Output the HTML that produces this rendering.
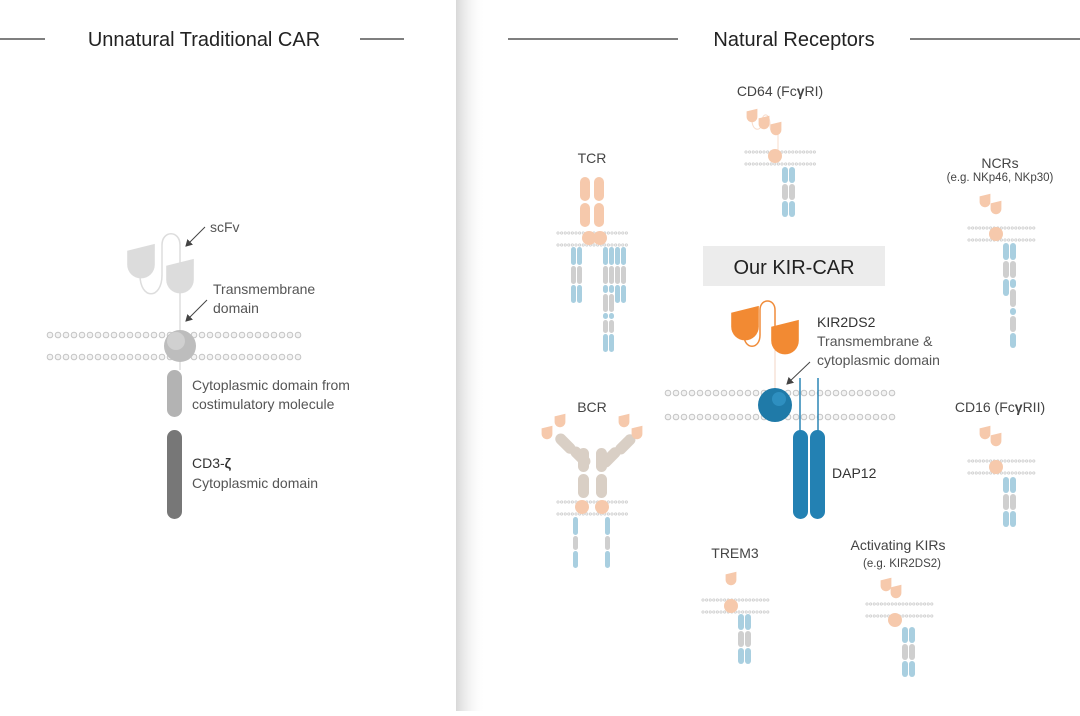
<!DOCTYPE html>
<html><head><meta charset="utf-8"><style>
html,body{margin:0;padding:0;background:#fff}
body{width:1080px;height:711px;overflow:hidden;position:relative;font-family:"Liberation Sans",sans-serif}
.mo{stroke:#c4c4c4;stroke-width:6.6;stroke-dasharray:0 8;stroke-linecap:round}
.mi{stroke:#f3f3f3;stroke-width:4.6;stroke-dasharray:0 8;stroke-linecap:round}
.so{stroke:#c8c8c8;stroke-width:3;stroke-dasharray:0 3.6;stroke-linecap:round}
.si{stroke:#f0f0f0;stroke-width:1.8;stroke-dasharray:0 3.6;stroke-linecap:round}
</style></head><body>
<svg width="1080" height="711" viewBox="0 0 1080 711" xmlns="http://www.w3.org/2000/svg" font-family="Liberation Sans, sans-serif">
<defs>
<linearGradient id="sh" x1="0" x2="1"><stop offset="0" stop-color="#d8d8d8"/><stop offset="1" stop-color="#fff" stop-opacity="0"/></linearGradient>
<marker id="ar" markerWidth="8" markerHeight="8" refX="6" refY="4" orient="auto"><path d="M0,0 L7,4 L0,8 Z" fill="#444"/></marker>
<g id="hd"><path d="M-6,-4 L6,-7 L6,2 A6,6 0 0 1 -6,2 Z"/></g>
</defs>
<rect x="456" y="0" width="30" height="711" fill="url(#sh)"/>
<!-- headers -->
<g stroke="#333" stroke-width="1.3"><line x1="0" y1="39" x2="45" y2="39"/><line x1="360" y1="39" x2="404" y2="39"/><line x1="508" y1="39" x2="678" y2="39"/><line x1="910" y1="39" x2="1080" y2="39"/></g>
<g fill="#222" font-size="20" text-anchor="middle"><text x="204" y="46">Unnatural Traditional CAR</text><text x="794" y="46">Natural Receptors</text></g>

<!-- big membranes -->
<g>
<line class="mo" x1="50" y1="335" x2="300" y2="335"/><line class="mi" x1="50" y1="335" x2="300" y2="335"/>
<line class="mo" x1="50" y1="357" x2="300" y2="357"/><line class="mi" x1="50" y1="357" x2="300" y2="357"/>
<line class="mo" x1="668" y1="393" x2="895" y2="393"/><line class="mi" x1="668" y1="393" x2="895" y2="393"/>
<line class="mo" x1="668" y1="417" x2="895" y2="417"/><line class="mi" x1="668" y1="417" x2="895" y2="417"/>
</g>

<!-- LEFT CAR -->
<line x1="180" y1="280" x2="180" y2="370" stroke="#ddd" stroke-width="1.5"/>
<path d="M140,275 C140,300 162,300 162,275 L162,245 C162,230 180,230 180,245 L180,282" fill="none" stroke="#ddd" stroke-width="1.5"/>
<g fill="#dcdcdc"><use href="#hd" transform="translate(141,260) scale(2.3)"/><use href="#hd" transform="translate(180,275) scale(2.3)"/></g>
<circle cx="180" cy="346" r="16" fill="#bdbdbd"/><circle cx="176" cy="341" r="9" fill="#d0d0d0"/>
<rect x="167" y="370" width="15" height="47" rx="7.5" fill="#b3b3b3"/>
<rect x="167" y="430" width="15" height="89" rx="7.5" fill="#777"/>
<g stroke="#444" stroke-width="1"><line x1="205" y1="227" x2="186" y2="246" marker-end="url(#ar)"/><line x1="207" y1="300" x2="186" y2="321" marker-end="url(#ar)"/></g>
<g fill="#555" font-size="14"><text x="210" y="232">scFv</text><text x="213" y="294">Transmembrane</text><text x="213" y="313">domain</text><text x="192" y="390">Cytoplasmic domain from</text><text x="192" y="409">costimulatory molecule</text><text x="192" y="468" fill="#333">CD3-<tspan font-weight="bold">ζ</tspan></text><text x="192" y="488">Cytoplasmic domain</text></g>

<!-- KIR-CAR -->
<rect x="703" y="246" width="182" height="40" fill="#ececec"/>
<text x="794" y="274" font-size="20" text-anchor="middle" fill="#222">Our KIR-CAR</text>
<line x1="775" y1="350" x2="775" y2="395" stroke="#f3d6c4" stroke-width="1"/>
<path d="M744,335 C744,350 760,350 760,335 L760,310 C760,298 775,298 775,310 L775,345" fill="none" stroke="#f08c3a" stroke-width="1.5"/>
<g fill="#f28a33"><use href="#hd" transform="translate(745,322) scale(2.3)"/><use href="#hd" transform="translate(785,336) scale(2.3)"/></g>
<g stroke="#2a85b5" stroke-width="1.5"><line x1="800" y1="378" x2="800" y2="435"/><line x1="818" y1="378" x2="818" y2="435"/></g>
<circle cx="775" cy="405" r="17" fill="#1f7aa8"/><circle cx="779" cy="399" r="7" fill="#2e8fc0"/>
<rect x="793" y="430" width="15" height="89" rx="7.5" fill="#2381b3"/>
<rect x="810" y="430" width="15" height="89" rx="7.5" fill="#2381b3"/>
<line x1="810" y1="362" x2="787" y2="384" stroke="#444" marker-end="url(#ar)"/>
<g fill="#555" font-size="14"><text x="817" y="327" fill="#333">KIR2DS2</text><text x="817" y="346">Transmembrane &amp;</text><text x="817" y="365">cytoplasmic domain</text><text x="832" y="478" fill="#333">DAP12</text></g>

<!-- labels small -->
<g fill="#444" font-size="14" text-anchor="middle">
<text x="592" y="163">TCR</text><text x="780" y="96">CD64 (Fc<tspan font-weight="bold">γ</tspan>RI)</text><text x="1000" y="168">NCRs</text>
<text x="592" y="412">BCR</text><text x="1000" y="412">CD16 (Fc<tspan font-weight="bold">γ</tspan>RII)</text><text x="735" y="558">TREM3</text><text x="898" y="550">Activating KIRs</text>
<text x="1000" y="181" font-size="11.5">(e.g. NKp46, NKp30)</text><text x="902" y="567" font-size="11.5">(e.g. KIR2DS2)</text></g>

<!-- small membranes -->
<g>
<line class="so" x1="558" y1="233" x2="628" y2="233"/><line class="si" x1="558" y1="233" x2="628" y2="233"/><line class="so" x1="558" y1="245" x2="628" y2="245"/><line class="si" x1="558" y1="245" x2="628" y2="245"/>
<line class="so" x1="746" y1="152" x2="816" y2="152"/><line class="si" x1="746" y1="152" x2="816" y2="152"/><line class="so" x1="746" y1="164" x2="816" y2="164"/><line class="si" x1="746" y1="164" x2="816" y2="164"/>
<line class="so" x1="969" y1="228" x2="1035" y2="228"/><line class="si" x1="969" y1="228" x2="1035" y2="228"/><line class="so" x1="969" y1="240" x2="1035" y2="240"/><line class="si" x1="969" y1="240" x2="1035" y2="240"/>
<line class="so" x1="558" y1="502" x2="628" y2="502"/><line class="si" x1="558" y1="502" x2="628" y2="502"/><line class="so" x1="558" y1="514" x2="628" y2="514"/><line class="si" x1="558" y1="514" x2="628" y2="514"/>
<line class="so" x1="969" y1="461" x2="1035" y2="461"/><line class="si" x1="969" y1="461" x2="1035" y2="461"/><line class="so" x1="969" y1="473" x2="1035" y2="473"/><line class="si" x1="969" y1="473" x2="1035" y2="473"/>
<line class="so" x1="703" y1="600" x2="769" y2="600"/><line class="si" x1="703" y1="600" x2="769" y2="600"/><line class="so" x1="703" y1="612" x2="769" y2="612"/><line class="si" x1="703" y1="612" x2="769" y2="612"/>
<line class="so" x1="867" y1="604" x2="933" y2="604"/><line class="si" x1="867" y1="604" x2="933" y2="604"/><line class="so" x1="867" y1="616" x2="933" y2="616"/><line class="si" x1="867" y1="616" x2="933" y2="616"/>
</g>

<!-- TCR -->
<g fill="#f6c9ac"><rect x="580" y="177" width="10" height="24" rx="5"/><rect x="594" y="177" width="10" height="24" rx="5"/><rect x="580" y="203" width="10" height="24" rx="5"/><rect x="594" y="203" width="10" height="24" rx="5"/><circle cx="589" cy="238" r="7"/><circle cx="600" cy="238" r="7"/></g>
<g>
<rect x="571" y="247" width="5" height="18" rx="2.5" fill="#a9cfe0"/><rect x="577" y="247" width="5" height="18" rx="2.5" fill="#a9cfe0"/>
<rect x="571" y="266" width="5" height="18" rx="2.5" fill="#cfcfcf"/><rect x="577" y="266" width="5" height="18" rx="2.5" fill="#cfcfcf"/>
<rect x="571" y="285" width="5" height="18" rx="2.5" fill="#a9cfe0"/><rect x="577" y="285" width="5" height="18" rx="2.5" fill="#a9cfe0"/>
<rect x="603" y="247" width="5" height="18" rx="2.5" fill="#a9cfe0"/><rect x="609" y="247" width="5" height="18" rx="2.5" fill="#a9cfe0"/><rect x="615" y="247" width="5" height="18" rx="2.5" fill="#a9cfe0"/><rect x="621" y="247" width="5" height="18" rx="2.5" fill="#a9cfe0"/>
<rect x="603" y="266" width="5" height="18" rx="2.5" fill="#cfcfcf"/><rect x="609" y="266" width="5" height="18" rx="2.5" fill="#cfcfcf"/><rect x="615" y="266" width="5" height="18" rx="2.5" fill="#cfcfcf"/><rect x="621" y="266" width="5" height="18" rx="2.5" fill="#cfcfcf"/>
<rect x="603" y="285" width="5" height="8" rx="2.5" fill="#a9cfe0"/><rect x="609" y="285" width="5" height="8" rx="2.5" fill="#a9cfe0"/><rect x="615" y="285" width="5" height="18" rx="2.5" fill="#a9cfe0"/><rect x="621" y="285" width="5" height="18" rx="2.5" fill="#a9cfe0"/>
<rect x="603" y="294" width="5" height="18" rx="2.5" fill="#cfcfcf"/><rect x="609" y="294" width="5" height="18" rx="2.5" fill="#cfcfcf"/>
<rect x="603" y="313" width="5" height="6" rx="2.5" fill="#a9cfe0"/><rect x="609" y="313" width="5" height="6" rx="2.5" fill="#a9cfe0"/>
<rect x="603" y="320" width="5" height="13" rx="2.5" fill="#cfcfcf"/><rect x="609" y="320" width="5" height="13" rx="2.5" fill="#cfcfcf"/>
<rect x="603" y="334" width="5" height="18" rx="2.5" fill="#a9cfe0"/><rect x="609" y="334" width="5" height="18" rx="2.5" fill="#a9cfe0"/>
</g>

<!-- CD64 -->
<path d="M752,120 C752,132 762,132 762,122 C762,112 770,112 770,125 C770,136 778,136 778,130 L778,150" fill="none" stroke="#f8dccb" stroke-width="1"/>
<g fill="#f6c9ac"><use href="#hd" transform="translate(752,115) scale(0.9)"/><use href="#hd" transform="translate(764,122) scale(0.9)"/><use href="#hd" transform="translate(776,128) scale(0.9)"/><circle cx="775" cy="156" r="7"/></g>
<g><rect x="782" y="167" width="6" height="16" rx="3" fill="#a9cfe0"/><rect x="789" y="167" width="6" height="16" rx="3" fill="#a9cfe0"/><rect x="782" y="184" width="6" height="16" rx="3" fill="#cfcfcf"/><rect x="789" y="184" width="6" height="16" rx="3" fill="#cfcfcf"/><rect x="782" y="201" width="6" height="16" rx="3" fill="#a9cfe0"/><rect x="789" y="201" width="6" height="16" rx="3" fill="#a9cfe0"/></g>

<!-- NCRs -->
<g fill="#f6c9ac"><use href="#hd" transform="translate(985,200) scale(0.9)"/><use href="#hd" transform="translate(996,207) scale(0.9)"/><circle cx="996" cy="234" r="7"/></g>
<g><rect x="1003" y="243" width="6" height="17" rx="3" fill="#a9cfe0"/><rect x="1010" y="243" width="6" height="17" rx="3" fill="#a9cfe0"/><rect x="1003" y="261" width="6" height="17" rx="3" fill="#cfcfcf"/><rect x="1010" y="261" width="6" height="17" rx="3" fill="#cfcfcf"/><rect x="1003" y="279" width="6" height="17" rx="3" fill="#a9cfe0"/><rect x="1010" y="279" width="6" height="9" rx="3" fill="#a9cfe0"/><rect x="1010" y="289" width="6" height="18" rx="3" fill="#cfcfcf"/><rect x="1010" y="308" width="6" height="7" rx="3" fill="#a9cfe0"/><rect x="1010" y="316" width="6" height="16" rx="3" fill="#cfcfcf"/><rect x="1010" y="333" width="6" height="15" rx="3" fill="#a9cfe0"/></g>

<!-- CD16 -->
<g fill="#f6c9ac"><use href="#hd" transform="translate(985,432) scale(0.9)"/><use href="#hd" transform="translate(996,439) scale(0.9)"/><circle cx="996" cy="467" r="7"/></g>
<g><rect x="1003" y="477" width="6" height="16" rx="3" fill="#a9cfe0"/><rect x="1010" y="477" width="6" height="16" rx="3" fill="#a9cfe0"/><rect x="1003" y="494" width="6" height="16" rx="3" fill="#cfcfcf"/><rect x="1010" y="494" width="6" height="16" rx="3" fill="#cfcfcf"/><rect x="1003" y="511" width="6" height="16" rx="3" fill="#a9cfe0"/><rect x="1010" y="511" width="6" height="16" rx="3" fill="#a9cfe0"/></g>

<!-- TREM3 -->
<g fill="#f6c9ac"><use href="#hd" transform="translate(731,578) scale(0.9)"/><circle cx="731" cy="606" r="7"/></g>
<g><rect x="738" y="614" width="6" height="16" rx="3" fill="#a9cfe0"/><rect x="745" y="614" width="6" height="16" rx="3" fill="#a9cfe0"/><rect x="738" y="631" width="6" height="16" rx="3" fill="#cfcfcf"/><rect x="745" y="631" width="6" height="16" rx="3" fill="#cfcfcf"/><rect x="738" y="648" width="6" height="16" rx="3" fill="#a9cfe0"/><rect x="745" y="648" width="6" height="16" rx="3" fill="#a9cfe0"/></g>

<!-- Activating KIRs -->
<g fill="#f6c9ac"><use href="#hd" transform="translate(886,584) scale(0.9)"/><use href="#hd" transform="translate(896,591) scale(0.9)"/><circle cx="895" cy="620" r="7"/></g>
<g><rect x="902" y="627" width="6" height="16" rx="3" fill="#a9cfe0"/><rect x="909" y="627" width="6" height="16" rx="3" fill="#a9cfe0"/><rect x="902" y="644" width="6" height="16" rx="3" fill="#cfcfcf"/><rect x="909" y="644" width="6" height="16" rx="3" fill="#cfcfcf"/><rect x="902" y="661" width="6" height="16" rx="3" fill="#a9cfe0"/><rect x="909" y="661" width="6" height="16" rx="3" fill="#a9cfe0"/></g>

<!-- BCR -->
<g fill="#d9cfc5">
<rect x="575" y="445" width="11" height="24" rx="5.5" transform="rotate(-45 580 457)"/>
<rect x="560" y="432" width="11" height="24" rx="5.5" transform="rotate(-45 565 444)"/>
<rect x="605" y="445" width="11" height="24" rx="5.5" transform="rotate(45 610 457)"/>
<rect x="620" y="432" width="11" height="24" rx="5.5" transform="rotate(45 625 444)"/>
<rect x="578" y="448" width="11" height="24" rx="5.5"/><rect x="596" y="448" width="11" height="24" rx="5.5"/>
<rect x="578" y="474" width="11" height="24" rx="5.5"/><rect x="596" y="474" width="11" height="24" rx="5.5"/>
</g>
<g fill="#f6c9ac"><use href="#hd" transform="translate(547,432) scale(0.9)"/><use href="#hd" transform="translate(560,420) scale(0.9)"/><use href="#hd" transform="translate(624,420) scale(0.9)"/><use href="#hd" transform="translate(637,432) scale(0.9)"/><circle cx="582" cy="507" r="7"/><circle cx="602" cy="507" r="7"/></g>
<g><rect x="573" y="517" width="5" height="18" rx="2.5" fill="#a9cfe0"/><rect x="573" y="536" width="5" height="14" rx="2.5" fill="#cfcfcf"/><rect x="573" y="551" width="5" height="17" rx="2.5" fill="#a9cfe0"/>
<rect x="605" y="517" width="5" height="18" rx="2.5" fill="#a9cfe0"/><rect x="605" y="536" width="5" height="14" rx="2.5" fill="#cfcfcf"/><rect x="605" y="551" width="5" height="17" rx="2.5" fill="#a9cfe0"/></g>
</svg>
</body></html>
